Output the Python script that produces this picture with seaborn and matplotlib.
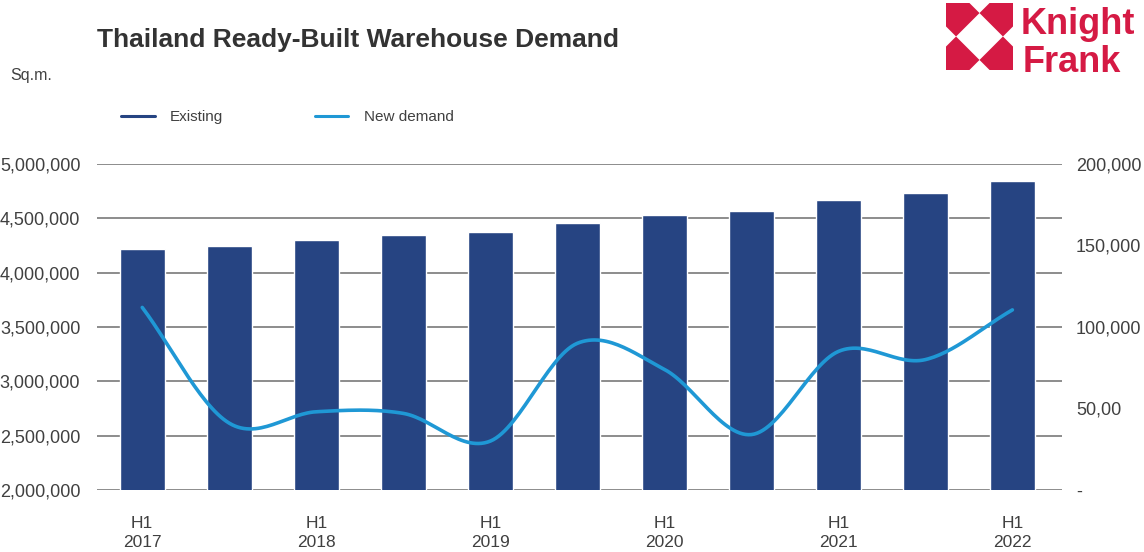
import numpy as np
import pandas as pd
import seaborn as sns
from matplotlib import pyplot as plt
from matplotlib.lines import Line2D
from matplotlib.patches import Polygon

# values
periods = ['H1 2017', 'H2 2017', 'H1 2018', 'H2 2018', 'H1 2019', 'H2 2019',
           'H1 2020', 'H2 2020', 'H1 2021', 'H2 2021', 'H1 2022']
existing = [4215000, 4250000, 4300000, 4345000, 4370000, 4455000,
            4530000, 4565000, 4670000, 4735000, 4845000]
new_demand = [112000, 41000, 48000, 47000, 30000, 90000,
              74000, 34000, 85000, 80000, 110500]
left_ticks = [2000000, 2500000, 3000000, 3500000, 4000000, 4500000, 5000000]
right_ticks = [0, 50000, 100000, 150000, 200000]
right_labels = ['-', '50,00', '100,000', '150,000', '200,000']

NAVY = '#264482'
LIGHT = '#1f98d5'
RED = '#d51a44'
TXT = '#404040'


def smooth(x, y, n=30):
    # catmull-rom style smoothing, like the "smoothed line" option in excel
    x = np.asarray(x, float)
    y = np.asarray(y, float)
    mx = np.gradient(x)
    my = np.gradient(y)
    xs, ys = [], []
    t = np.linspace(0, 1, n, endpoint=False)
    h00 = 2 * t**3 - 3 * t**2 + 1
    h10 = t**3 - 2 * t**2 + t
    h01 = -2 * t**3 + 3 * t**2
    h11 = t**3 - t**2
    for i in range(len(x) - 1):
        xs.append(h00 * x[i] + h10 * mx[i] + h01 * x[i + 1] + h11 * mx[i + 1])
        ys.append(h00 * y[i] + h10 * my[i] + h01 * y[i + 1] + h11 * my[i + 1])
    xs.append([x[-1]])
    ys.append([y[-1]])
    return np.concatenate(xs), np.concatenate(ys)


df = pd.DataFrame({'period': periods, 'existing': existing, 'new_demand': new_demand})

sns.set_style('white')
plt.rcParams['font.family'] = ['Liberation Sans', 'DejaVu Sans']

fig = plt.figure(figsize=(11.44, 5.52), dpi=100)
ax = fig.add_axes([97 / 1144, 1 - 490 / 552, 965 / 1144, 326 / 552])

sns.barplot(data=df, x='period', y='existing', color=NAVY, saturation=1,
            width=0.52, ax=ax)
ax.set_ylim(2000000, 5000000)
ax.set_xlim(-0.52, 10.57)
ax.set_yticks(left_ticks)
ax.set_yticklabels([f'{v:,}' for v in left_ticks], fontsize=13, color=TXT)
ax.yaxis.grid(True, color='#6e6e6e', lw=1.1)
ax.set_axisbelow(True)
ax.set_xticks(range(0, 11, 2))
ax.set_xticklabels([p.replace(' ', '\n') for p in periods[::2]],
                   fontsize=12.5, color=TXT, linespacing=1.3)
ax.tick_params(axis='x', length=0, pad=19)
ax.tick_params(axis='y', length=0, pad=12)
ax.set_xlabel('')
ax.set_ylabel('')
sns.despine(ax=ax, left=True, bottom=True)

ax2 = ax.twinx()
xs, ys = smooth(np.arange(len(new_demand)), new_demand)
sns.lineplot(x=xs, y=ys, color=LIGHT, lw=2.6, ax=ax2, sort=False)
ax2.set_ylim(0, 200000)
ax2.set_yticks(right_ticks)
ax2.set_yticklabels(right_labels, fontsize=13, color=TXT)
ax2.tick_params(axis='y', length=0, pad=10)
ax2.set_ylabel('')
sns.despine(ax=ax2, left=True, bottom=True, right=True)

fig.text(97 / 1144, 1 - 40 / 552, 'Thailand Ready-Built Warehouse Demand',
         fontsize=19, fontweight='bold', color='#333333', va='center')
fig.text(10 / 1144, 1 - 76 / 552, 'Sq.m.', fontsize=11.5, color=TXT, va='center')

handles = [Line2D([], [], color=NAVY, lw=2.2), Line2D([], [], color=LIGHT, lw=2.2)]
fig.legend(handles, ['Existing', 'New demand'], loc='center left',
           bbox_to_anchor=(121 / 1144, 1 - 117 / 552), ncol=2, frameon=False,
           fontsize=11, handlelength=2.2, handletextpad=1.0, columnspacing=6.0,
           labelcolor=TXT, borderpad=0, borderaxespad=0)

# Knight Frank logo
lax = fig.add_axes([946 / 1144, 1 - 70 / 552, 67 / 1144, 67 / 552])
corner = np.array([(0, 1), (0.35, 1), (0.5, 0.85), (0.15, 0.5), (0, 0.65)])
for sx, sy in [(1, 1), (-1, 1), (1, -1), (-1, -1)]:
    pts = corner.copy()
    if sx < 0:
        pts[:, 0] = 1 - pts[:, 0]
    if sy < 0:
        pts[:, 1] = 1 - pts[:, 1]
    lax.add_patch(Polygon(pts, closed=True, color=RED, lw=0))
lax.set_xlim(0, 1)
lax.set_ylim(0, 1)
lax.axis('off')
fig.text(1021 / 1144, 1 - 34 / 552, 'Knight', fontsize=26, fontweight='bold',
         color=RED, va='baseline')
fig.text(1023 / 1144, 1 - 72 / 552, 'Frank', fontsize=26, fontweight='bold',
         color=RED, va='baseline')

fig.savefig('out.png', dpi=100)
